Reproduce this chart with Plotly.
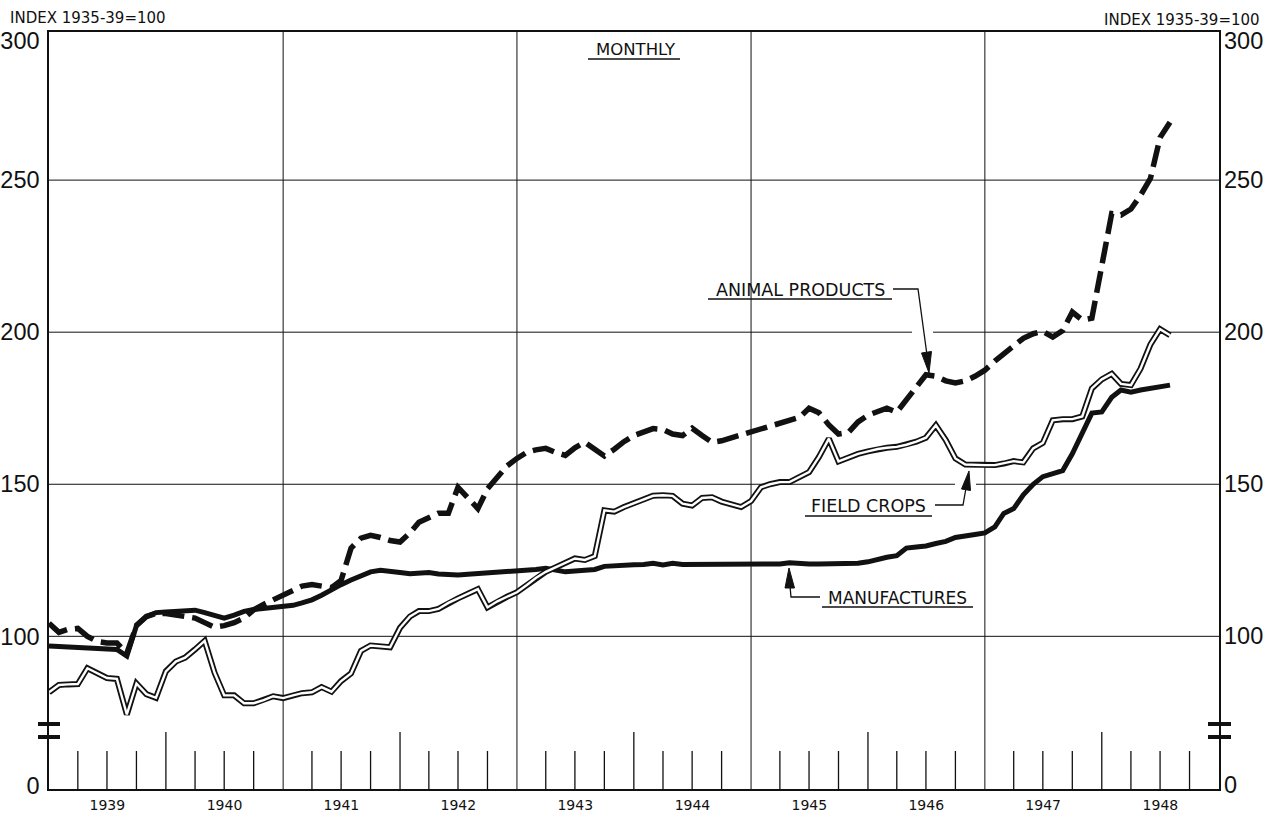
import plotly.graph_objects as go
import pandas as pd

# ---------------- data (monthly, Jan 1939 - Aug 1948), index 1935-39 = 100 ----------------
months = pd.date_range("1939-01-01", "1948-08-01", freq="MS")

manufactures = [
    96.8, 96.6, 96.5, 96.4, 96.3, 96.2, 96.0, 95.7, 93.5, 103.5, 106.5, 107.8,      # 1939
    108.0, 108.3, 108.5, 108.6, 107.8, 106.8, 106.0, 107.0, 108.2, 108.8, 109.2, 109.4,  # 1940
    109.6, 110.2, 111.0, 112.0, 113.5, 115.5, 117.0, 118.5, 120.0, 121.2, 121.7, 121.5,  # 1941
    121.0, 120.6, 120.8, 121.0, 120.5, 120.2, 120.2, 120.4, 120.6, 120.8, 121.0, 121.2,  # 1942
    121.4, 121.6, 122.0, 122.4, 121.8, 121.2, 121.5, 121.7, 122.0, 123.0, 123.3, 123.4,  # 1943
    123.5, 123.6, 124.0, 123.5, 124.0, 123.6, 123.6, 123.7, 123.7, 123.7, 123.7, 123.7,  # 1944
    123.7, 123.7, 123.7, 123.8, 124.2, 123.8, 123.8, 123.8, 123.8, 123.9, 124.0, 124.0,  # 1945
    124.5, 125.5, 126.0, 126.5, 129.0, 129.4, 129.7, 130.5, 131.2, 132.5, 133.2, 133.5,  # 1946
    134.0, 136.0, 140.4, 142.0, 146.5, 150.0, 152.5, 153.6, 154.5, 160.0, 167.0, 173.4,  # 1947
    173.8, 178.6, 181.0, 180.3, 181.0, 181.6, 182.0, 182.6,                              # 1948
]

animal_products = [
    104.3, 101.3, 102.3, 102.6, 100.0, 98.3, 97.8, 97.8, 94.4, 103.6, 106.5, 107.5,      # 1939
    107.5, 107.0, 106.5, 106.0, 104.5, 103.0, 103.5, 104.5, 106.0, 108.7, 110.5, 112.0,  # 1940
    114.0, 115.5, 116.5, 117.0, 116.5, 116.0, 118.4, 129.0, 132.3, 133.2, 132.5, 131.5,  # 1941
    131.0, 134.0, 137.5, 139.0, 140.5, 140.5, 149.0, 145.5, 142.0, 148.5, 152.5, 156.0,  # 1942
    158.5, 160.5, 161.3, 161.8, 160.5, 159.5, 162.0, 163.8, 161.5, 159.3, 161.5, 164.0,  # 1943
    166.0, 167.0, 168.3, 168.0, 166.5, 166.0, 168.4, 166.0, 163.8, 164.3, 165.3, 166.0,  # 1944
    167.0, 168.3, 169.3, 170.3, 171.0, 172.0, 175.0, 173.5, 169.5, 166.5, 167.0, 170.5,  # 1945
    172.7, 173.8, 175.0, 173.7, 177.6, 181.5, 186.0, 185.5, 184.0, 183.3, 184.0, 185.5,  # 1946
    187.5, 190.5, 193.0, 195.5, 198.0, 199.5, 200.3, 198.4, 200.5, 206.6, 204.0, 204.6,  # 1947
    221.0, 239.0, 238.5, 240.5, 245.0, 250.6, 264.0, 269.0,                              # 1948
]

field_crops = [
    81.6, 84.0, 84.2, 84.3, 89.5, 87.8, 86.3, 86.0, 74.3, 84.5, 81.0, 79.8,            # 1939
    88.5, 91.7, 93.0, 95.7, 98.5, 88.0, 80.6, 80.6, 78.0, 78.0, 79.0, 80.3,            # 1940
    79.7, 80.6, 81.3, 81.6, 83.3, 81.8, 85.3, 87.8, 95.2, 97.0, 96.6, 96.4,            # 1941
    102.8, 106.5, 108.3, 108.3, 109.0, 111.0, 112.5, 114.0, 115.5, 109.5, 111.5, 113.0,  # 1942
    114.5, 116.9, 119.2, 121.2, 122.6, 124.2, 125.6, 125.1, 126.4, 141.4, 141.0, 142.5,  # 1943
    143.7, 145.0, 146.2, 146.4, 146.2, 143.6, 143.0, 145.5, 145.7, 144.3, 143.4, 142.5,  # 1944
    144.5, 149.0, 150.0, 150.7, 150.7, 152.3, 154.0, 159.0, 165.0, 157.5, 158.8, 160.0,  # 1945
    160.8, 161.6, 162.0, 162.3, 163.0, 164.0, 165.3, 169.4, 164.5, 158.5, 156.5, 156.3,  # 1946
    156.3, 156.3, 156.8, 157.6, 157.2, 161.8, 163.6, 171.0, 171.4, 171.4, 172.3, 181.5,  # 1947
    184.5, 186.3, 183.0, 182.6, 188.0, 196.0, 201.0, 199.0,                              # 1948
]

year_labels = [str(y) for y in range(1939, 1949)]
y_tick_values = [100, 150, 200, 250]
y_tick_text = ["0", "100", "150", "200", "250", "300"]
grid_years = [1941, 1943, 1945, 1947]

# ---------------- geometry helpers (layout decoration only) ----------------
W, H = 1266, 813
L, R, T, B = 49, 47, 32, 24
PW, PH = W - L - R, H - T - B


def px(x):
    return (x - L) / PW


def py(y):
    return (H - B - y) / PH


BLACK = "#111111"
FONT_TXT = "DejaVu Sans"
FONT_NUM = "Liberation Sans"

fig = go.Figure()
fig.add_trace(go.Scatter(x=months, y=manufactures, mode="lines",
                         line=dict(color=BLACK, width=5), name="Manufactures",
                         hoverinfo="skip"))
fig.add_trace(go.Scatter(x=months, y=animal_products, mode="lines",
                         line=dict(color=BLACK, width=5.5, dash="22px,8px"),
                         name="Animal products", hoverinfo="skip"))
fig.add_trace(go.Scatter(x=months, y=field_crops, mode="lines",
                         line=dict(color=BLACK, width=6), name="Field crops",
                         hoverinfo="skip"))
fig.add_trace(go.Scatter(x=months, y=field_crops, mode="lines",
                         line=dict(color="white", width=2.4), name="Field crops inner",
                         hoverinfo="skip"))

shapes = []
# vertical grid lines
for gy in grid_years:
    shapes.append(dict(type="line", xref="x", yref="paper", x0=f"{gy}-01-01", x1=f"{gy}-01-01",
                       y0=0, y1=1, line=dict(color=BLACK, width=1), layer="below"))
# horizontal grid lines (with small breaks where the leaders cross)
gaps = {200: (912, 933), 150: (955, 976)}
for v in y_tick_values:
    if v in gaps:
        a, b = gaps[v]
        segs = [(0, px(a)), (px(b), 1)]
    else:
        segs = [(0, 1)]
    for s0, s1 in segs:
        shapes.append(dict(type="line", xref="paper", yref="y", x0=s0, x1=s1, y0=v, y1=v,
                           line=dict(color=BLACK, width=1), layer="below"))
# quarterly tick marks along the bottom
for yr in range(1939, 1949):
    for mo in (1, 4, 7, 10):
        if mo == 1 and (yr == 1939 or yr in grid_years):
            continue
        tall = (mo == 1)
        shapes.append(dict(type="line", xref="x", yref="paper",
                           x0=f"{yr}-{mo:02d}-01", x1=f"{yr}-{mo:02d}-01",
                           y0=0, y1=(57 if tall else 38) / PH,
                           line=dict(color=BLACK, width=1.3)))
# axis break marks
for xa, xb in ((38, 60), (1208, 1231)):
    for yy in (724, 737):
        shapes.append(dict(type="line", xref="paper", yref="paper", x0=px(xa), x1=px(xb),
                           y0=py(yy), y1=py(yy), line=dict(color=BLACK, width=4)))


def path(points, close=False):
    s = "M " + " L ".join(f"{px(a):.5f},{py(b):.5f}" for a, b in points)
    return s + (" Z" if close else "")


# underlines
for xa, xb, yy in ((588, 680, 59), (708, 892, 299), (805, 932, 516), (822, 973, 607)):
    shapes.append(dict(type="line", xref="paper", yref="paper", x0=px(xa), x1=px(xb),
                       y0=py(yy), y1=py(yy), line=dict(color=BLACK, width=1.3)))

# leader lines
leaders = [
    [(893, 289), (918, 289), (927, 355)],
    [(935, 505), (963, 505), (966, 488)],
    [(820, 597), (791, 597), (790, 586)],
]
for pts in leaders:
    shapes.append(dict(type="path", xref="paper", yref="paper", path=path(pts),
                       line=dict(color=BLACK, width=1.3)))
# arrow heads
heads = [
    [(929, 373), (931.5, 351.5), (921.5, 353)],
    [(969, 471), (970.5, 490.5), (961.5, 489)],
    [(789, 568), (794.5, 588), (785, 588)],
]
for pts in heads:
    shapes.append(dict(type="path", xref="paper", yref="paper", path=path(pts, True),
                       fillcolor=BLACK, line=dict(color=BLACK, width=1)))

annotations = []


def label(text, x, y, size, anchor="left", family=FONT_TXT):
    annotations.append(dict(text=text, xref="paper", yref="paper", x=px(x), y=py(y),
                            xanchor=anchor, yanchor="middle", showarrow=False,
                            font=dict(family=family, size=size, color=BLACK)))


label("INDEX 1935-39=100", 8, 18, 15)
label("INDEX 1935-39=100", 1262, 20, 15, anchor="right")
label("MONTHLY", 636, 49, 16.5, anchor="center")
label("ANIMAL PRODUCTS", 714, 290, 17.5)
label("FIELD CROPS", 809, 506, 17.5)
label("MANUFACTURES", 826, 597.5, 17)

y_ticks_all = [51] + y_tick_values + [295.8]
yrange = [49.8, 298.7]

# right-hand scale (same values as the left axis)
for tv, tt in zip(y_ticks_all, y_tick_text):
    annotations.append(dict(text=tt, xref="paper", yref="y", x=px(1222), y=tv,
                            xanchor="left", yanchor="middle", showarrow=False,
                            font=dict(family=FONT_NUM, size=23.5, color=BLACK)))

fig.update_layout(
    width=W, height=H,
    margin=dict(l=L, r=R, t=T, b=B, pad=0, autoexpand=False),
    paper_bgcolor="white", plot_bgcolor="white",
    showlegend=False,
    shapes=shapes,
    annotations=annotations,
    xaxis=dict(type="date", range=["1939-01-01", "1949-01-01"], automargin=False,
               tickvals=[f"{y}-07-02" for y in range(1939, 1949)], ticktext=year_labels,
               ticks="", showgrid=False, zeroline=False,
               showline=True, mirror=True, linecolor=BLACK, linewidth=1.5,
               tickfont=dict(family=FONT_TXT, size=14, color=BLACK),
               ticklabelstandoff=2),
    yaxis=dict(range=yrange, tickvals=y_ticks_all, ticktext=y_tick_text, automargin=False,
               ticks="", showgrid=False, zeroline=False,
               showline=True, mirror=True, linecolor=BLACK, linewidth=1.5,
               tickfont=dict(family=FONT_NUM, size=23.5, color=BLACK),
               ticklabelstandoff=3),
)

fig.write_html("out.html",
               config={"displayModeBar": False},
               post_script="document.body.style.margin='0px';"
                           "document.documentElement.style.overflow='hidden';")
